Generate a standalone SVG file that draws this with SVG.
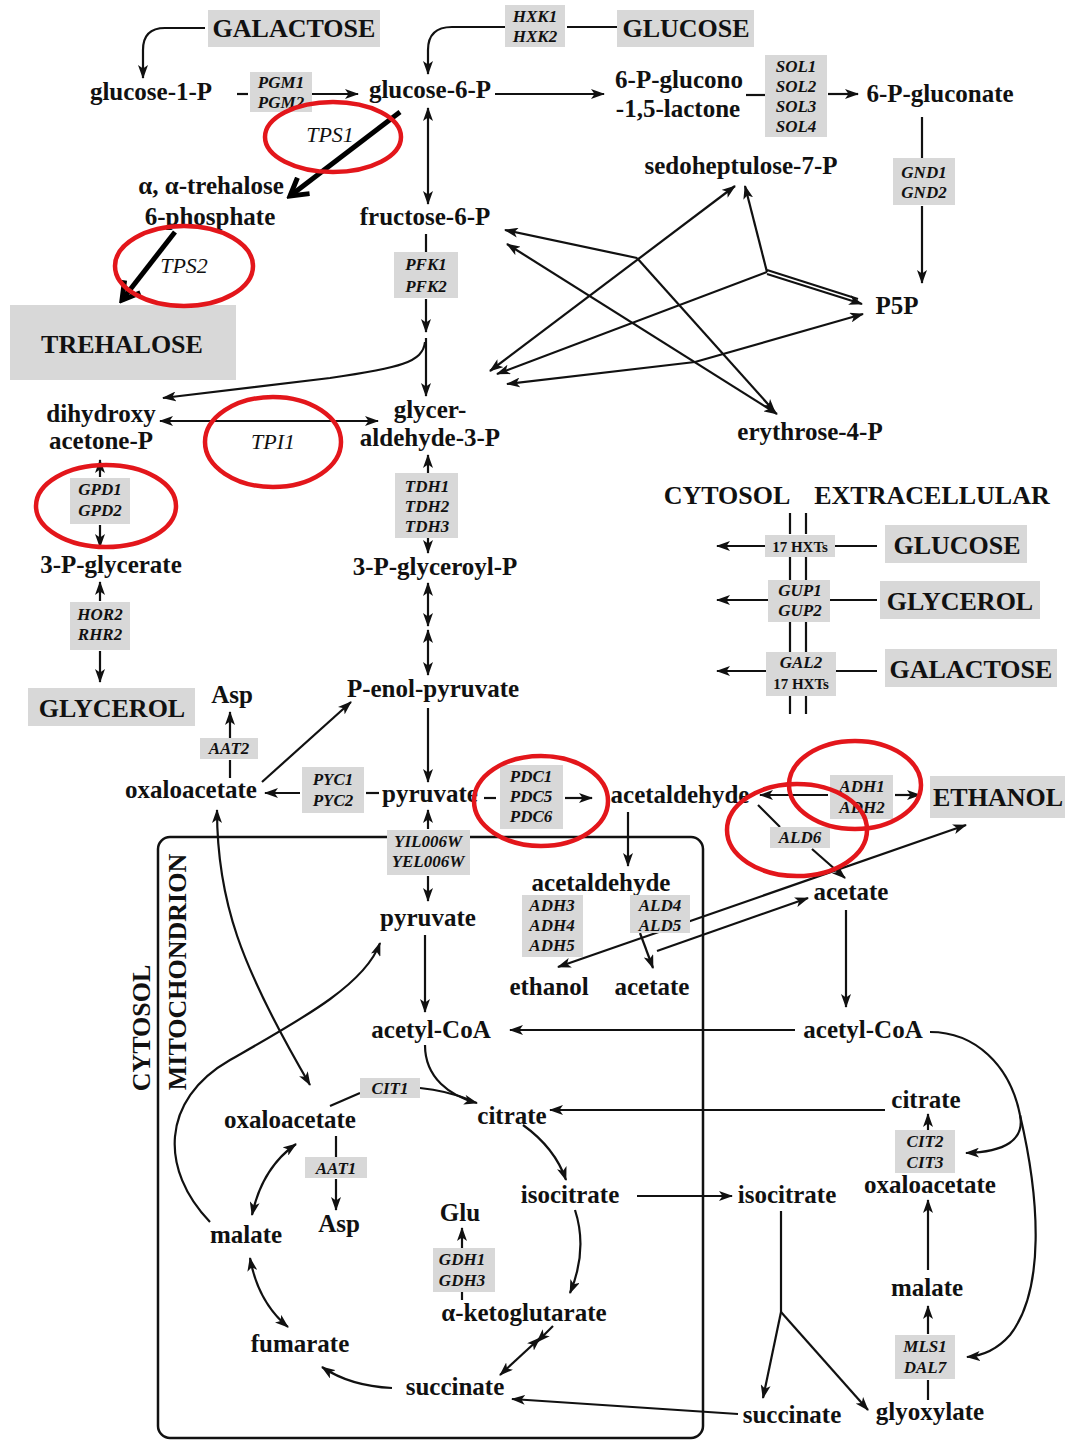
<svg xmlns="http://www.w3.org/2000/svg" width="1065" height="1441" viewBox="0 0 1065 1441">
<style>
text{font-family:"Liberation Serif","Times New Roman",serif;fill:#111}
.m{font-size:25px;font-weight:bold;text-anchor:middle}
.big{font-size:26px;font-weight:bold;text-anchor:middle}
.g{font-size:17px;font-weight:bold;font-style:italic;text-anchor:middle}
.gn{font-size:15px;font-weight:bold;text-anchor:middle}
.hl{font-size:22px;font-style:italic;text-anchor:middle}
.bx{fill:#d8d8d8}
.c{fill:none;stroke:#111;stroke-width:2.2}
.e{marker-end:url(#a)}
.b{marker-start:url(#a);marker-end:url(#a)}
.th{fill:none;stroke:#000;stroke-width:5;marker-end:url(#t)}
.r{fill:none;stroke:#e3161b;stroke-width:4.5}
.mb{fill:none;stroke:#111;stroke-width:2.5}
</style>
<defs>
<marker id="a" viewBox="0 0 14 10" refX="13" refY="5" markerWidth="14" markerHeight="10" markerUnits="userSpaceOnUse" orient="auto-start-reverse"><path d="M0,0 L14,5 L0,10 L3.5,5 z" fill="#111"/></marker>
<marker id="t" viewBox="0 0 24 24" refX="20" refY="12" markerWidth="24" markerHeight="24" markerUnits="userSpaceOnUse" orient="auto"><path d="M3,2 L20,12 L3,22" fill="none" stroke="#000" stroke-width="5"/></marker>
</defs>
<rect width="1065" height="1441" fill="#fff"/>

<g id="mitochondrion-box">
<rect class="mb" x="158" y="837" width="545" height="601" rx="12"/>
<text class="big" transform="translate(150,1028) rotate(-90)">CYTOSOL</text>
<text class="big" transform="translate(186,972) rotate(-90)">MITOCHONDRION</text>
</g>

<g id="connectors">
<path class="c e" d="M205,28 L165,28 Q143,28 143,50 L143,78"/>
<path class="c" d="M237,94 L248,94"/>
<path class="c e" d="M312,94 L358,94"/>
<path class="c" d="M567,27 L617,27"/>
<path class="c e" d="M505,27 L452,27 Q428,27 428,50 L428,74"/>
<path class="c e" d="M495,94 L604,94"/>
<path class="c" d="M746,95 L765,95"/>
<path class="c e" d="M828,94 L858,94"/>
<path class="c" d="M922,117 L922,158"/>
<path class="c e" d="M922,206 L922,283"/>
<path class="c b" d="M428,108 L428,204"/>
<path class="c" d="M426,234 L426,252"/>
<path class="c e" d="M426,299 L426,332"/>
<path class="c e" d="M426,338 L426,396"/>
<path class="c e" d="M425,342 C423,362 400,368 330,378 L163,398"/>
<path class="c b" d="M160,421 L378,421"/>
<path class="c e" d="M100,477 L100,460"/>
<path class="c e" d="M100,525 L100,547"/>
<path class="c e" d="M428,473 L428,455"/>
<path class="c e" d="M428,538 L428,553"/>
<path class="c e" d="M100,601 L100,582"/>
<path class="c e" d="M100,651 L100,682"/>
<path class="c b" d="M428,583 L428,626"/>
<path class="c b" d="M428,630 L428,675"/>
<path class="c e" d="M428,708 L428,782"/>
<path class="c" d="M366,793 L379,793"/>
<path class="c e" d="M300,793 L265,793"/>
<path class="c e" d="M262,782 L351,702"/>
<path class="c" d="M230,778 L230,760"/>
<path class="c e" d="M230,738 L230,712"/>
<path class="c" d="M484,798 L496,798"/>
<path class="c e" d="M565,798 L592,798"/>
<path class="c e" d="M828,795 L760,795"/>
<path class="c e" d="M895,795 L920,795"/>
<path class="c" d="M758,805 L780,827"/>
<path class="c e" d="M812,849 L845,878"/>
<path class="c e" d="M846,910 L846,1007"/>
<path class="c e" d="M795,1030 L510,1030"/>
<path class="c e" d="M628,812 L628,866"/>
<path class="c e" d="M428,829 L428,810"/>
<path class="c e" d="M428,876 L428,901"/>
<path class="c e" d="M425,935 L425,1012"/>
<path class="c b" d="M558,967 L966,825"/>
<path class="c e" d="M640,933 L653,968"/>
<path class="c e" d="M657,951 L808,898"/>
<path class="c e" d="M425,1045 C425,1078 450,1096 477,1103"/>
<path class="c" d="M330,1106 L360,1093"/>
<path class="c" d="M420,1088 C440,1090 460,1096 470,1100"/>
<path class="c e" d="M885,1110 L550,1110"/>
<path class="c e" d="M523,1125 Q555,1148 566,1180"/>
<path class="c e" d="M575,1210 Q588,1250 570,1293"/>
<path class="c e" d="M553,1326 L537,1342"/>
<path class="c b" d="M540,1338 L500,1375"/>
<path class="c e" d="M738,1414 L512,1399"/>
<path class="c e" d="M392,1388 Q350,1386 322,1367"/>
<path class="c b" d="M250,1258 Q258,1302 288,1327"/>
<path class="c b" d="M252,1215 Q262,1168 296,1144"/>
<path class="c" d="M336,1136 L336,1157"/>
<path class="c e" d="M336,1179 L336,1210"/>
<path class="c e" d="M462,1248 L462,1228"/>
<path class="c" d="M462,1292 L462,1300"/>
<path class="c e" d="M210,1222 C160,1170 160,1100 230,1060 C300,1020 365,985 380,943"/>
<path class="c b" d="M217,810 C217,900 240,965 310,1085"/>
<path class="c e" d="M930,1032 C975,1032 1010,1065 1020,1115 C1040,1200 1045,1290 1010,1335 C995,1352 980,1356 967,1357"/>
<path class="c e" d="M1020,1115 C1025,1140 1005,1152 966,1153"/>
<path class="c e" d="M928,1270 L928,1200"/>
<path class="c e" d="M928,1334 L928,1306"/>
<path class="c" d="M928,1400 L928,1380"/>
<path class="c e" d="M928,1130 L928,1114"/>
<path class="c e" d="M637,1196 L732,1196"/>
<path class="c" d="M781,1211 L781,1312"/>
<path class="c e" d="M781,1312 L763,1398"/>
<path class="c e" d="M781,1312 L868,1410"/>
<path class="th" d="M400,112 L290,196"/>
<path class="th" d="M175,232 L122,300"/>
<path class="c e" d="M637,258 L505,230"/>
<path class="c b" d="M490,371 L735,186"/>
<path class="c e" d="M637,258 L775,412"/>
<path class="c b" d="M507,244 L777,414"/>
<path class="c e" d="M767,272 L745,186"/>
<path class="c e" d="M767,272 L497,374"/>
<path class="c" d="M767,270 L858,299"/>
<path class="c e" d="M767,274 L862,304"/>
<path class="c e" d="M695,362 L507,384"/>
<path class="c e" d="M695,362 L863,314"/>
<path class="c" d="M790,513 L790,534 M806,513 L806,534 M790,557 L790,580 M806,557 L806,580 M790,622 L790,652 M806,622 L806,652 M790,696 L790,714 M806,696 L806,714"/>
<path class="c e" d="M765,546 L717,546"/>
<path class="c" d="M835,546 L877,546"/>
<path class="c e" d="M768,600 L717,600"/>
<path class="c" d="M830,600 L877,600"/>
<path class="c e" d="M766,671 L717,671"/>
<path class="c" d="M836,671 L877,671"/>
</g>

<g id="n-galactose-top"><rect class="bx" x="208" y="10" width="172" height="37"/><text class="big" x="294" y="37">GALACTOSE</text></g>
<g id="n-glucose-top"><rect class="bx" x="617" y="10" width="137" height="37"/><text class="big" x="686" y="37">GLUCOSE</text></g>
<g id="n-trehalose"><rect class="bx" x="10" y="305" width="226" height="75"/><text class="big" x="122" y="353">TREHALOSE</text></g>
<g id="n-glycerol-left"><rect class="bx" x="28" y="688" width="167" height="38"/><text class="big" x="112" y="717">GLYCEROL</text></g>
<g id="n-ethanol-ext"><rect class="bx" x="930" y="776" width="135" height="42"/><text class="big" x="998" y="806">ETHANOL</text></g>
<g id="n-glucose-ext"><rect class="bx" x="885" y="525" width="142" height="38"/><text class="big" x="957" y="554">GLUCOSE</text></g>
<g id="n-glycerol-ext"><rect class="bx" x="880" y="581" width="160" height="38"/><text class="big" x="960" y="610">GLYCEROL</text></g>
<g id="n-galactose-ext"><rect class="bx" x="885" y="649" width="172" height="38"/><text class="big" x="971" y="678">GALACTOSE</text></g>
<g id="n-compartments"><text class="big" x="727" y="504">CYTOSOL</text><text class="big" x="932" y="504">EXTRACELLULAR</text></g>

<g id="n-glucose-1-p"><text class="m" x="151" y="100">glucose-1-P</text></g>
<g id="n-glucose-6-p"><text class="m" x="430" y="98">glucose-6-P</text></g>
<g id="n-lactone"><text class="m" x="679" y="88">6-P-glucono</text><text class="m" x="678" y="117">-1,5-lactone</text></g>
<g id="n-6-p-gluconate"><text class="m" x="940" y="102">6-P-gluconate</text></g>
<g id="n-sedoheptulose"><text class="m" x="741" y="174">sedoheptulose-7-P</text></g>
<g id="n-trehalose-6-p"><text class="m" x="211" y="194">α, α-trehalose</text><text class="m" x="210" y="225">6-phosphate</text></g>
<g id="n-fructose-6-p"><text class="m" x="425" y="225">fructose-6-P</text></g>
<g id="n-p5p"><text class="m" x="897" y="314">P5P</text></g>
<g id="n-dhap"><text class="m" x="101" y="422">dihydroxy</text><text class="m" x="101" y="449">acetone-P</text></g>
<g id="n-gap"><text class="m" x="430" y="418">glycer-</text><text class="m" x="430" y="446">aldehyde-3-P</text></g>
<g id="n-erythrose"><text class="m" x="810" y="440">erythrose-4-P</text></g>
<g id="n-3pglycerate"><text class="m" x="111" y="573">3-P-glycerate</text></g>
<g id="n-3pglyceroyl"><text class="m" x="435" y="575">3-P-glyceroyl-P</text></g>
<g id="n-pep"><text class="m" x="433" y="697">P-enol-pyruvate</text></g>
<g id="n-asp-cyto"><text class="m" x="232" y="703">Asp</text></g>
<g id="n-oaa-cyto"><text class="m" x="191" y="798">oxaloacetate</text></g>
<g id="n-pyruvate-cyto"><text class="m" x="430" y="802">pyruvate</text></g>
<g id="n-acetaldehyde-cyto"><text class="m" x="680" y="803">acetaldehyde</text></g>
<g id="n-acetaldehyde-mito"><text class="m" x="601" y="891">acetaldehyde</text></g>
<g id="n-pyruvate-mito"><text class="m" x="428" y="926">pyruvate</text></g>
<g id="n-acetate-cyto"><text class="m" x="851" y="900">acetate</text></g>
<g id="n-ethanol-mito"><text class="m" x="549" y="995">ethanol</text></g>
<g id="n-acetate-mito"><text class="m" x="652" y="995">acetate</text></g>
<g id="n-acetylcoa-mito"><text class="m" x="431" y="1038">acetyl-CoA</text></g>
<g id="n-acetylcoa-cyto"><text class="m" x="863" y="1038">acetyl-CoA</text></g>
<g id="n-citrate-cyto"><text class="m" x="926" y="1108">citrate</text></g>
<g id="n-citrate-mito"><text class="m" x="512" y="1124">citrate</text></g>
<g id="n-oaa-mito"><text class="m" x="290" y="1128">oxaloacetate</text></g>
<g id="n-isocitrate-mito"><text class="m" x="570" y="1203">isocitrate</text></g>
<g id="n-isocitrate-cyto"><text class="m" x="787" y="1203">isocitrate</text></g>
<g id="n-oaa-right"><text class="m" x="930" y="1193">oxaloacetate</text></g>
<g id="n-glu"><text class="m" x="460" y="1221">Glu</text></g>
<g id="n-malate-mito"><text class="m" x="246" y="1243">malate</text></g>
<g id="n-asp-mito"><text class="m" x="339" y="1232">Asp</text></g>
<g id="n-malate-right"><text class="m" x="927" y="1296">malate</text></g>
<g id="n-akg"><text class="m" x="524" y="1321">α-ketoglutarate</text></g>
<g id="n-fumarate"><text class="m" x="300" y="1352">fumarate</text></g>
<g id="n-succinate-mito"><text class="m" x="455" y="1395">succinate</text></g>
<g id="n-succinate-right"><text class="m" x="792" y="1423">succinate</text></g>
<g id="n-glyoxylate"><text class="m" x="930" y="1420">glyoxylate</text></g>

<g id="e-pgm"><rect class="bx" x="250" y="72" width="62" height="40"/><text class="g" x="281" y="88">PGM1</text><text class="g" x="281" y="108">PGM2</text></g>
<g id="e-hxk"><rect class="bx" x="505" y="5" width="60" height="42"/><text class="g" x="535" y="22">HXK1</text><text class="g" x="535" y="42">HXK2</text></g>
<g id="e-sol"><rect class="bx" x="765" y="55" width="62" height="82"/><text class="g" x="796" y="72">SOL1</text><text class="g" x="796" y="92">SOL2</text><text class="g" x="796" y="112">SOL3</text><text class="g" x="796" y="132">SOL4</text></g>
<g id="e-gnd"><rect class="bx" x="893" y="158" width="62" height="47"/><text class="g" x="924" y="178">GND1</text><text class="g" x="924" y="198">GND2</text></g>
<g id="e-pfk"><rect class="bx" x="394" y="252" width="64" height="46"/><text class="g" x="426" y="270">PFK1</text><text class="g" x="426" y="292">PFK2</text></g>
<g id="e-gpd"><rect class="bx" x="70" y="478" width="60" height="46"/><text class="g" x="100" y="495">GPD1</text><text class="g" x="100" y="516">GPD2</text></g>
<g id="e-tdh"><rect class="bx" x="395" y="473" width="63" height="65"/><text class="g" x="427" y="492">TDH1</text><text class="g" x="427" y="512">TDH2</text><text class="g" x="427" y="532">TDH3</text></g>
<g id="e-hor"><rect class="bx" x="70" y="602" width="60" height="48"/><text class="g" x="100" y="620">HOR2</text><text class="g" x="100" y="640">RHR2</text></g>
<g id="e-aat2"><rect class="bx" x="200" y="738" width="58" height="21"/><text class="g" x="229" y="754">AAT2</text></g>
<g id="e-pyc"><rect class="bx" x="302" y="767" width="62" height="46"/><text class="g" x="333" y="785">PYC1</text><text class="g" x="333" y="806">PYC2</text></g>
<g id="e-pdc"><rect class="bx" x="500" y="765" width="63" height="64"/><text class="g" x="531" y="782">PDC1</text><text class="g" x="531" y="802">PDC5</text><text class="g" x="531" y="822">PDC6</text></g>
<g id="e-yil"><rect class="bx" x="387" y="830" width="83" height="45"/><text class="g" x="428" y="847">YIL006W</text><text class="g" x="428" y="867">YEL006W</text></g>
<g id="e-adh12"><rect class="bx" x="830" y="775" width="63" height="44"/><text class="g" x="862" y="792">ADH1</text><text class="g" x="862" y="813">ADH2</text></g>
<g id="e-ald6"><rect class="bx" x="770" y="827" width="60" height="21"/><text class="g" x="800" y="843">ALD6</text></g>
<g id="e-adh345"><rect class="bx" x="522" y="895" width="61" height="62"/><text class="g" x="552" y="911">ADH3</text><text class="g" x="552" y="931">ADH4</text><text class="g" x="552" y="951">ADH5</text></g>
<g id="e-ald45"><rect class="bx" x="630" y="895" width="60" height="38"/><text class="g" x="660" y="911">ALD4</text><text class="g" x="660" y="931">ALD5</text></g>
<g id="e-cit1"><rect class="bx" x="360" y="1078" width="60" height="20"/><text class="g" x="390" y="1094">CIT1</text></g>
<g id="e-aat1"><rect class="bx" x="305" y="1157" width="62" height="21"/><text class="g" x="336" y="1174">AAT1</text></g>
<g id="e-gdh"><rect class="bx" x="433" y="1248" width="62" height="44"/><text class="g" x="462" y="1265">GDH1</text><text class="g" x="462" y="1286">GDH3</text></g>
<g id="e-cit23"><rect class="bx" x="895" y="1130" width="60" height="43"/><text class="g" x="925" y="1147">CIT2</text><text class="g" x="925" y="1168">CIT3</text></g>
<g id="e-mls"><rect class="bx" x="895" y="1335" width="60" height="44"/><text class="g" x="925" y="1352">MLS1</text><text class="g" x="925" y="1373">DAL7</text></g>
<g id="e-hxt"><rect class="bx" x="765" y="535" width="70" height="22"/><text class="gn" x="800" y="552">17 HXTs</text></g>
<g id="e-gup"><rect class="bx" x="768" y="580" width="62" height="42"/><text class="g" x="800" y="596">GUP1</text><text class="g" x="800" y="616">GUP2</text></g>
<g id="e-gal2"><rect class="bx" x="766" y="652" width="70" height="44"/><text class="g" x="801" y="668">GAL2</text><text class="gn" x="801" y="689">17 HXTs</text></g>

<g id="highlights">
<text class="hl" x="330" y="142">TPS1</text>
<text class="hl" x="184" y="273">TPS2</text>
<text class="hl" x="273" y="449">TPI1</text>
<ellipse class="r" cx="333" cy="137" rx="68" ry="35"/>
<ellipse class="r" cx="184" cy="266" rx="69" ry="40"/>
<ellipse class="r" cx="273" cy="442" rx="68" ry="45"/>
<ellipse class="r" cx="106" cy="506" rx="70" ry="41"/>
<ellipse class="r" cx="541" cy="801" rx="67" ry="45"/>
<ellipse class="r" cx="855" cy="785" rx="66" ry="44"/>
<ellipse class="r" cx="797" cy="830" rx="70" ry="46"/>
</g>
</svg>
